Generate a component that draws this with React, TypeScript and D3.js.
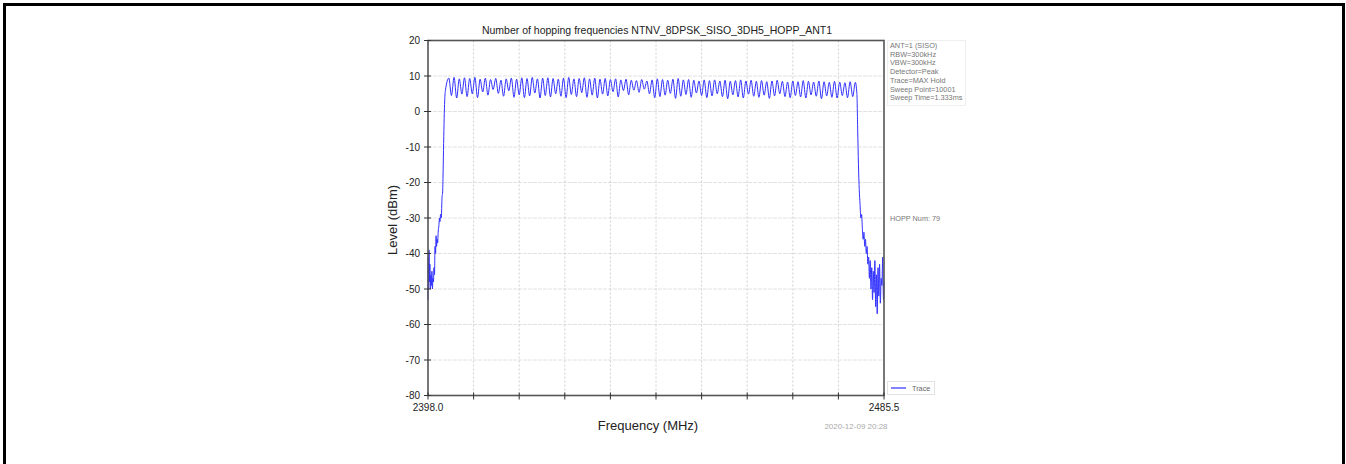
import React from "react";
import * as d3 from "d3";

// ---- Data ----
const title = "Number of hopping frequencies NTNV_8DPSK_SISO_3DH5_HOPP_ANT1";
const yTicks = [20, 10, 0, -10, -20, -30, -40, -50, -60, -70, -80];
const xTickLabels = ["2398.0", "2485.5"];
const xDomain = [2398.0, 2485.5];
const firstChannel = 2402;

const channelPeaks = [
  9.4, 9.6, 9.2, 9.5, 9.3, 9.6, 9.1, 9.4, 9.0, 9.3,
  8.8, 9.2, 9.4, 9.1, 9.5, 9.3, 9.6, 9.2, 9.4, 9.5,
  9.3, 9.1, 9.4, 9.6, 9.2, 9.3, 9.5, 9.2, 9.4, 9.1,
  9.3, 9.0, 9.2, 8.9, 9.1, 8.8, 8.7, 9.0, 8.6, 8.9,
  9.2, 9.0, 8.8, 9.1, 9.3, 8.9, 9.0, 8.8, 8.6, 8.9,
  8.7, 8.9, 8.6, 8.8, 8.5, 8.7, 8.9, 8.6, 8.8, 8.5,
  8.7, 8.4, 8.6, 8.8, 8.5, 8.3, 8.6, 8.4, 8.7, 8.5,
  8.3, 8.6, 8.4, 8.2, 8.5, 8.3, 8.1, 8.4, 8.2,
];
const channelTroughs = [
  4.5, 3.8, 4.9, 4.2, 5.0, 3.9, 5.5, 4.6, 6.2, 5.1,
  4.3, 5.8, 4.0, 4.7, 3.9, 4.4, 5.2, 3.8, 4.5, 4.1,
  5.0, 4.3, 3.9, 4.8, 4.2, 5.3, 4.0, 4.6, 3.8, 4.9,
  4.4, 5.6, 4.1, 5.9, 4.7, 6.0, 5.4, 6.3, 5.0, 3.9,
  4.2, 4.6, 5.1, 3.7, 4.3, 4.8, 4.0, 5.2, 4.5, 3.9,
  4.4, 5.0, 4.2, 3.6, 4.7, 4.1, 3.8, 4.9, 4.3, 4.0,
  4.6, 3.7, 4.4, 5.0, 4.2, 3.9, 4.5, 4.1, 3.8, 4.7,
  4.3, 3.6, 4.4, 4.0, 3.8, 4.5, 3.9, 4.2,
];

const leftEdgeFreq = [
  2398.0, 2398.05, 2398.12, 2398.2, 2398.28, 2398.36, 2398.45, 2398.55, 2398.65, 2398.75,
  2398.85, 2398.95, 2399.05, 2399.15, 2399.25, 2399.35, 2399.45, 2399.55, 2399.65, 2399.75,
  2399.85, 2399.95, 2400.1, 2400.2, 2400.3, 2400.4, 2400.55, 2400.7, 2400.8, 2400.9,
  2401.0, 2401.1, 2401.2, 2401.35,
];
const leftEdgeLevel = [
  -53, -41, -50, -39, -48, -43, -50, -46, -49, -45,
  -50, -47, -48, -44, -46, -38, -40, -35, -38, -36,
  -37, -34, -32, -30, -31, -29, -30, -24, -23, -17,
  -9, -2, 3, 6,
];
const rightEdgeFreq = [
  2480.3, 2480.45, 2480.6, 2480.75, 2480.9, 2481.05, 2481.2, 2481.35, 2481.5, 2481.65,
  2481.8, 2481.95, 2482.1, 2482.25, 2482.4, 2482.55, 2482.7, 2482.85, 2483.0, 2483.15,
  2483.3, 2483.45, 2483.6, 2483.75, 2483.9, 2484.05, 2484.2, 2484.35, 2484.5, 2484.65,
  2484.8, 2484.95, 2485.1, 2485.25, 2485.4, 2485.5,
];
const rightEdgeLevel = [
  5, -5, -15, -22, -26, -30, -29, -33, -36, -34,
  -38, -36, -40, -38, -43, -41, -47, -42, -50, -44,
  -53, -45, -51, -42, -55, -46, -57, -44, -52, -43,
  -54, -47, -49, -41, -53, -48,
];

const infoLines = [
  "ANT=1 (SISO)",
  "RBW=300kHz",
  "VBW=300kHz",
  "Detector=Peak",
  "Trace=MAX Hold",
  "Sweep Point=10001",
  "Sweep Time=1.333ms",
];
const hoppLabel = "HOPP Num: 79";
const legendLabel = "Trace";
const dateLabel = "2020-12-09 20:28";

export default function App() {
  const W = 1346, H = 464;
  const left = 428, right = 884, top = 40.5, bottom = 395.5;
  const x = d3.scaleLinear().domain(xDomain).range([left, right]);
  const y = d3.scaleLinear().domain([-80, 20]).range([bottom, top]);

  const pts: [number, number][] = [];
  leftEdgeFreq.forEach((f, i) => pts.push([f, leftEdgeLevel[i]]));
  channelPeaks.forEach((p, i) => {
    pts.push([firstChannel + i, p]);
    if (i < channelTroughs.length) pts.push([firstChannel + i + 0.5, channelTroughs[i]]);
  });
  rightEdgeFreq.forEach((f, i) => pts.push([f, rightEdgeLevel[i]]));

  const line = d3
    .line<[number, number]>()
    .x((d) => x(d[0]))
    .y((d) => y(d[1]))
    .curve(d3.curveMonotoneX);

  const gridX = d3.range(1, 10).map((k) => xDomain[0] + ((xDomain[1] - xDomain[0]) * k) / 10);
  const allX = d3.range(0, 11).map((k) => xDomain[0] + ((xDomain[1] - xDomain[0]) * k) / 10);
  const font = "'Liberation Sans', Arial, sans-serif";

  return (
    <svg width={W} height={H} style={{ position: "absolute", left: 0, top: 0, display: "block" }} fontFamily={font}>
      <rect x={0} y={0} width={W} height={H} fill="#fff" />
      <rect x={4.5} y={4.5} width={1339} height={520} fill="none" stroke="#000" strokeWidth={3} />

      {/* grid */}
      {yTicks.slice(1, -1).map((t) => (
        <line key={"gy" + t} x1={left} x2={right} y1={y(t)} y2={y(t)} stroke="#e2e2e2" strokeWidth={1} strokeDasharray="4,1" />
      ))}
      {gridX.map((g, i) => (
        <line key={"gx" + i} x1={x(g)} x2={x(g)} y1={top} y2={bottom} stroke="#d0d0d0" strokeWidth={1} strokeDasharray="2,2" />
      ))}

      {/* trace */}
      <path d={line(pts) || ""} fill="none" stroke="#3030ff" strokeWidth={1} />

      {/* frame */}
      <rect x={left} y={top} width={right - left} height={bottom - top} fill="none" stroke="#555" strokeWidth={1.6} />

      {/* y ticks */}
      {yTicks.map((t) => (
        <g key={"yt" + t}>
          <line x1={left - 4} x2={left + 3} y1={y(t)} y2={y(t)} stroke="#333" strokeWidth={1} />
          <text x={left - 8} y={y(t)} dy="0.35em" textAnchor="end" fontSize={10} fill="#222">
            {t}
          </text>
        </g>
      ))}
      {/* x ticks */}
      {allX.map((g, i) => (
        <line key={"xt" + i} x1={x(g)} x2={x(g)} y1={bottom - 3} y2={bottom + 4} stroke="#333" strokeWidth={1} />
      ))}
      <text x={x(xDomain[0])} y={411} textAnchor="middle" fontSize={10} fill="#222">{xTickLabels[0]}</text>
      <text x={x(xDomain[1])} y={411} textAnchor="middle" fontSize={10} fill="#222">{xTickLabels[1]}</text>

      {/* labels */}
      <text x={657} y={34} textAnchor="middle" fontSize={10.5} fill="#222">{title}</text>
      <text transform={`translate(397,${(top + bottom) / 2 + 2}) rotate(-90)`} textAnchor="middle" fontSize={13} fill="#222">
        Level (dBm)
      </text>
      <text x={648} y={430} textAnchor="middle" fontSize={13} fill="#222">Frequency (MHz)</text>
      <text x={856} y={429} textAnchor="middle" fontSize={8} fill="#aaa">{dateLabel}</text>

      {/* info box */}
      <rect x={887.5} y={40.5} width={78} height={65} fill="none" stroke="#efefef" strokeWidth={1} />
      {infoLines.map((s, i) => (
        <text key={s} x={890} y={48 + i * 8.7} fontSize={7.3} fill="#777">{s}</text>
      ))}
      <text x={890} y={y(-30) + 3} fontSize={7.3} fill="#777">{hoppLabel}</text>

      {/* legend */}
      <rect x={887.5} y={381.5} width={47} height={13} fill="#fff" stroke="#e2e2e2" strokeWidth={1} />
      <line x1={891} x2={906} y1={388} y2={388} stroke="#3030ff" strokeWidth={1.2} />
      <text x={912} y={391} fontSize={7.3} fill="#666">{legendLabel}</text>
    </svg>
  );
}
